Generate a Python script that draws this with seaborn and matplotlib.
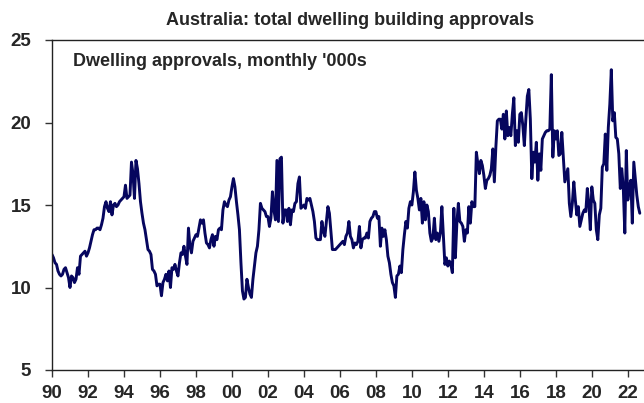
import numpy as np
import pandas as pd
import seaborn as sns
import matplotlib.pyplot as plt

# monthly dwelling approvals ('000s), Jan 1990 onwards
approvals_1990s = [
    12.0, 11.8, 11.5, 11.4, 11.0, 10.8, 10.7, 10.8, 11.1, 11.2, 10.9, 10.6,  # 1990
    10.0, 10.7, 10.6, 10.3, 10.5, 11.2, 10.8, 11.9, 12.0, 12.1, 12.2, 11.9,  # 1991
    12.1, 12.4, 12.8, 13.2, 13.5, 13.5, 13.6, 13.6, 13.5, 13.8, 14.2, 14.9,  # 1992
    15.2, 14.8, 14.6, 15.2, 14.4, 15.0, 15.1, 14.9, 15.0, 15.2, 15.3, 15.4,  # 1993
    15.5, 16.2, 15.4, 15.5, 15.6, 17.6, 16.9, 15.4, 17.7, 17.2, 16.3, 15.2,  # 1994
    14.5, 13.9, 13.5, 12.9, 12.3, 12.2, 12.0, 11.1, 11.0, 10.8, 10.1, 10.2,  # 1995
    10.2, 9.5, 10.3, 10.5, 10.8, 10.4, 11.0, 10.0, 11.2, 11.1, 11.4, 11.0,   # 1996
    10.7, 11.5, 12.1, 12.0, 12.5, 11.9, 11.4, 13.6, 12.5, 12.1, 12.8, 13.0,  # 1997
    13.2, 13.1, 13.6, 14.1, 13.9, 14.1, 13.3, 12.7, 12.6, 12.4, 12.9, 13.2,  # 1998
    12.5, 13.1, 12.9, 13.5, 13.6, 13.5, 14.7, 15.2, 15.0, 14.9, 15.3, 15.5,  # 1999
]
approvals_2000s = [
    16.1, 16.6, 16.1, 15.2, 14.4, 13.5, 11.5, 9.8, 9.3, 9.4, 10.5, 10.0,     # 2000
    9.6, 9.4, 10.5, 11.3, 12.1, 12.5, 13.5, 15.1, 14.8, 14.7, 14.6, 14.3,    # 2001
    14.3, 13.7, 14.2, 15.8, 14.7, 14.1, 17.7, 14.0, 17.8, 17.9, 13.9, 14.7,  # 2002
    14.7, 14.0, 14.8, 13.8, 14.7, 14.6, 15.1, 15.2, 16.3, 16.7, 14.8, 14.9,  # 2003
    15.0, 14.8, 15.4, 15.3, 15.4, 15.0, 14.6, 14.0, 13.0, 12.9, 12.9, 12.9,  # 2004
    14.0, 13.4, 13.1, 14.0, 14.9, 14.5, 13.4, 12.3, 12.3, 12.3, 12.4, 12.5,  # 2005
    12.6, 12.7, 12.8, 12.6, 13.1, 13.3, 14.0, 13.1, 12.9, 12.4, 12.7, 12.6,  # 2006
    12.8, 13.7, 12.4, 12.9, 13.0, 13.0, 13.3, 13.0, 14.0, 14.2, 14.3, 14.6,  # 2007
    14.6, 14.2, 14.3, 12.5, 13.6, 13.1, 13.5, 12.9, 11.9, 11.5, 10.8, 10.3,  # 2008
    10.1, 9.4, 10.7, 10.8, 11.3, 10.9, 12.3, 13.2, 14.0, 13.6, 14.8, 15.2,   # 2009
]
approvals_2010s = [
    15.0, 15.8, 17.0, 15.9, 15.4, 14.7, 15.4, 13.9, 15.2, 14.1, 15.0, 14.6,  # 2010
    13.3, 12.8, 13.0, 14.2, 12.9, 13.3, 12.8, 13.3, 14.9, 13.1, 11.4, 11.8,  # 2011
    11.3, 11.6, 11.4, 10.9, 14.8, 11.8, 13.9, 15.1, 14.0, 13.9, 13.7, 12.8,  # 2012
    13.5, 13.3, 14.9, 13.9, 15.2, 14.9, 14.9, 18.2, 17.5, 16.9, 17.7, 17.4,  # 2013
    16.8, 16.0, 16.5, 16.6, 16.8, 17.2, 18.4, 16.4, 18.5, 20.1, 20.2, 20.2,  # 2014
    19.6, 20.5, 19.0, 20.7, 19.2, 19.7, 19.2, 20.5, 21.5, 18.6, 19.5, 18.8,  # 2015
    20.5, 20.6, 19.8, 18.6, 20.2, 21.6, 22.0, 20.2, 16.6, 18.2, 17.6, 18.8,  # 2016
    16.5, 18.1, 17.1, 19.0, 19.2, 19.4, 19.5, 19.5, 19.6, 22.9, 17.9, 19.5,  # 2017
    19.0, 19.5, 18.0, 18.1, 19.4, 17.9, 16.4, 16.8, 17.2, 15.1, 14.3, 15.1,  # 2018
    16.4, 15.3, 14.4, 14.9, 13.7, 14.1, 14.5, 14.7, 14.6, 16.0, 15.1, 13.5,  # 2019
]
approvals_2020s = [
    16.1, 15.3, 15.1, 13.5, 12.9, 14.4, 14.8, 17.3, 17.5, 19.3, 17.1, 19.7,  # 2020
    21.1, 23.2, 20.1, 20.6, 19.1, 19.0, 18.1, 16.0, 17.2, 16.0, 13.3, 18.3,  # 2021
    15.3, 16.1, 16.5, 13.9, 17.6, 16.6, 15.6, 14.9, 14.5,                    # 2022
]

tick_years = list(range(1990, 2023, 2))
tick_labels = [str(y)[2:] for y in tick_years]
y_ticks = [5, 10, 15, 20, 25]

values = approvals_1990s + approvals_2000s + approvals_2010s + approvals_2020s
df = pd.DataFrame({"month": 1990 + np.arange(len(values)) / 12, "approvals": values})

sns.set_style("white")
plt.rcParams['font.family'] = ['Liberation Sans', 'DejaVu Sans']

fig = plt.figure(figsize=(6.44, 4.03), dpi=100)
ax = fig.add_axes([52 / 644, 33 / 403, 1 - 52 / 644, 330 / 403])

sns.lineplot(data=df, x="month", y="approvals", ax=ax, color="#06065e", linewidth=2.1)

ax.set_xlim(1990, 2022.9)
ax.set_ylim(5, 25)
ax.set_xticks(tick_years)
ax.set_xticklabels(tick_labels, fontsize=13.5, fontweight="bold")
ax.set_yticks(y_ticks)
ax.set_yticklabels([str(v) for v in y_ticks], fontsize=13.5, fontweight="bold")
ax.tick_params(axis="both", direction="out", length=5, width=1, color="#333333",
               left=True, bottom=True)
ax.tick_params(axis="y", pad=10)
ax.tick_params(axis="x", pad=6)
ax.set_xlabel("")
ax.set_ylabel("")

for side in ["left", "bottom", "top"]:
    ax.spines[side].set_color("#222222")
    ax.spines[side].set_linewidth(1.0)
ax.spines["right"].set_visible(False)

fig.text(0.543, 0.95, "Australia: total dwelling building approvals", ha="center", va="center",
         fontsize=13, fontweight="bold")
ax.text(0.035, 0.935, "Dwelling approvals, monthly '000s", transform=ax.transAxes,
        ha="left", va="center", fontsize=13, fontweight="bold")

fig.savefig("out.png", dpi=100)
